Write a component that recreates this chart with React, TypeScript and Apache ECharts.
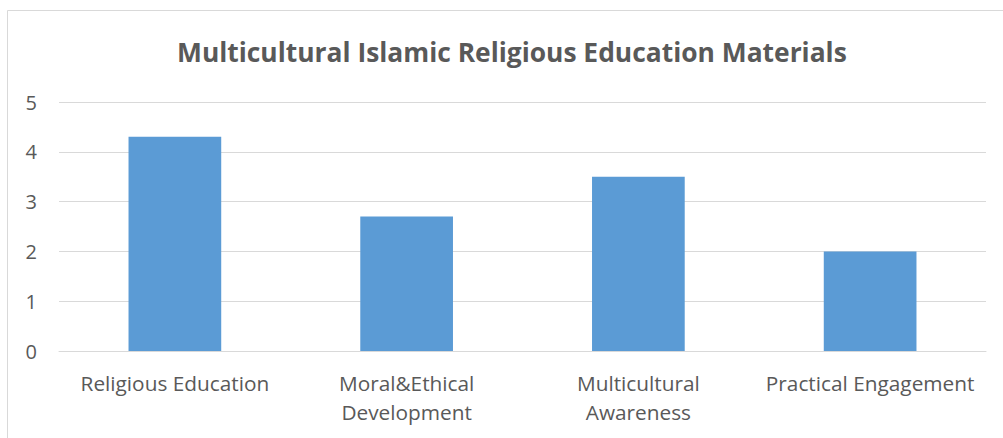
import React, { useEffect, useRef } from "react";
import * as echarts from "echarts";

const title = "Multicultural Islamic Religious Education Materials";
const categories = [
  "Religious Education",
  "Moral&Ethical\nDevelopment",
  "Multicultural\nAwareness",
  "Practical Engagement",
];
const values = [4.3, 2.7, 3.5, 2.0];
const yTicks = { min: 0, max: 5, interval: 1 };

export default function App() {
  const ref = useRef<HTMLDivElement>(null);
  useEffect(() => {
    if (!ref.current) return;
    const chart = echarts.init(ref.current, undefined, { renderer: "svg" });
    const font = "'Open Sans', 'Noto Sans', sans-serif";
    chart.setOption({
      animation: false,
      backgroundColor: "#ffffff",
      title: {
        text: title,
        left: 172,
        top: 34,
        textStyle: { fontFamily: font, fontSize: 26.4, fontWeight: "bold", color: "#595959" },
      },
      graphic: [
        {
          type: "rect",
          shape: { x: 7.5, y: 10.5, width: 1010, height: 450 },
          style: { fill: "none", stroke: "#D9D9D9", lineWidth: 1 },
          silent: true,
        },
      ],
      grid: { left: 59, right: 17, top: 102, bottom: 87, containLabel: false },
      xAxis: {
        type: "category",
        data: categories,
        axisLine: { show: true, lineStyle: { color: "#D9D9D9", width: 1 } },
        axisTick: { show: false },
        axisLabel: {
          interval: 0,
          margin: 17,
          fontFamily: font,
          fontSize: 20.8,
          color: "#595959",
          lineHeight: 29,
        },
      },
      yAxis: {
        type: "value",
        min: yTicks.min,
        max: yTicks.max,
        interval: yTicks.interval,
        axisLine: { show: false },
        axisTick: { show: false },
        splitLine: { lineStyle: { color: "#D9D9D9", width: 1 } },
        axisLabel: { margin: 22, fontFamily: font, fontSize: 20, color: "#595959" },
      },
      series: [
        {
          type: "bar",
          data: values,
          barWidth: "40%",
          itemStyle: { color: "#5B9BD5" },
        },
      ],
    });
    return () => chart.dispose();
  }, []);
  return (
    <div
      ref={ref}
      style={{ position: "absolute", left: 0, top: 0, width: 1003, height: 438 }}
    />
  );
}
